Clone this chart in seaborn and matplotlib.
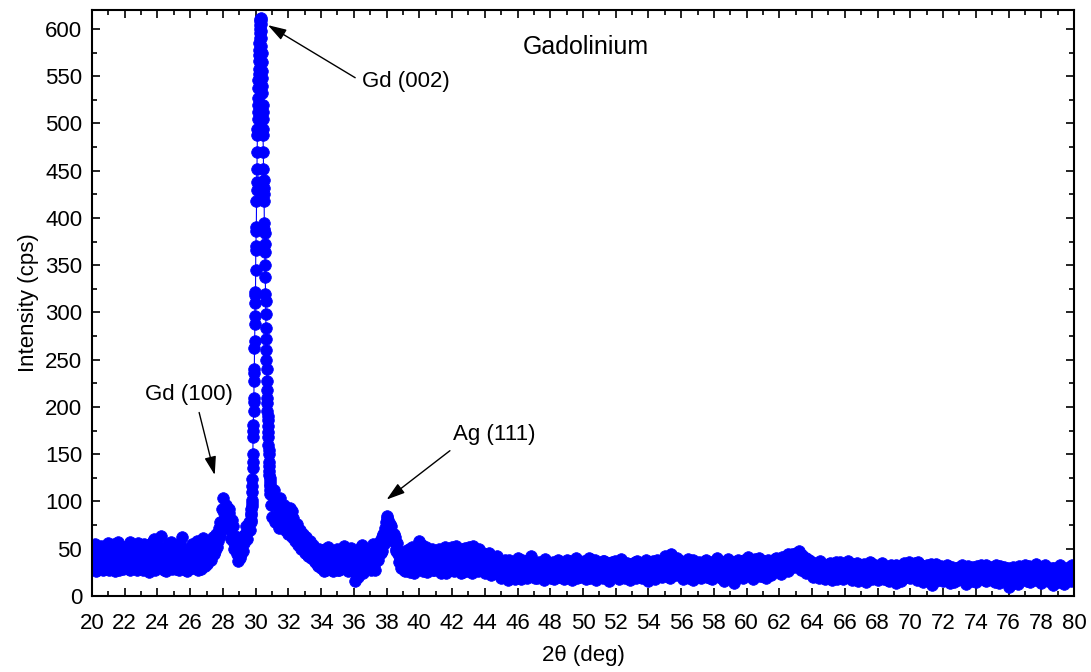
import numpy as np
import pandas as pd
import matplotlib
matplotlib.use("Agg")
import matplotlib.pyplot as plt
from matplotlib.ticker import MultipleLocator
import seaborn as sns

# ---- data: 2theta (deg) vs intensity (cps) ----
# segment A: 20.0 .. 29.6, step 0.1
int_a = [
    48, 31, 55, 28, 42, 36, 51, 27, 44, 33,
    39, 52, 30, 46, 26, 41, 57, 32, 45, 29,
    50, 35, 43, 27, 53, 38, 31, 47, 56, 30,
    41, 28, 49, 36, 54, 25, 44, 39, 60, 33,
    46, 31, 64, 38, 27, 51, 42, 34, 57, 29,
    45, 37, 52, 28, 48, 62, 33, 41, 26, 50,
    39, 55, 30, 47, 58, 27, 43, 36, 61, 32,
    48, 36, 56, 42, 62, 48, 66, 58, 78, 70,
    104, 82, 96, 74, 88, 60, 74, 50, 58, 37,
    52, 44, 64, 56, 74, 68, 78,
]
# segment A, in-between scan points: 20.05 .. 29.65, step 0.1
int_a_mid = [
    35, 50, 26, 47, 30, 53, 34, 40, 29, 56,
    28, 44, 37, 55, 33, 49, 27, 50, 36, 52,
    31, 46, 29, 57, 34, 42, 52, 27, 40, 48,
    35, 55, 30, 45, 27, 50, 33, 58, 28, 47,
    37, 52, 30, 48, 42, 26, 55, 31, 46, 36,
    53, 29, 40, 56, 35, 30, 49, 27, 45, 38,
    30, 44, 52, 33, 41, 50, 29, 55, 35, 45,
    34, 52, 38, 58, 44, 60, 52, 72, 64, 92,
    88, 90, 80, 92, 70, 80, 56, 64, 44, 48,
    40, 58, 48, 66, 60, 72, 70,
]
start_a, step_a = 20.0, 0.1

# segment B (Gd (002) peak, fine scan): 29.70 .. 30.89, step 0.01
int_b = [
    80, 86, 78, 92, 88, 95, 102, 98, 110, 116,
    124, 135, 150, 142, 168, 175, 181, 196, 210, 205,
    228, 240, 236, 262, 270, 288, 296, 310, 322, 318,
    345, 370, 366, 390, 386, 418, 430, 438, 452, 470,
    488, 494, 505, 512, 520, 527, 538, 546, 552, 558,
    566, 572, 578, 585, 590, 596, 600, 604, 608, 611,
    612, 609, 605, 598, 590, 582, 574, 565, 556, 548,
    540, 532, 520, 512, 505, 494, 488, 470, 452, 440,
    432, 425, 418, 395, 388, 384, 372, 364, 350, 338,
    320, 312, 298, 284, 272, 260, 250, 240, 228, 218,
    210, 204, 196, 190, 186, 180, 174, 168, 160, 155,
    150, 142, 138, 132, 128, 125, 122, 118, 116, 112,
]
start_b, step_b = 29.70, 0.01

# segment C: 30.9 .. 80.0, step 0.1
int_c = [
    108, 84, 112, 78, 98, 72, 104, 80, 92, 70,
    88, 66, 93, 62, 82, 58, 76, 54, 70, 50,
    66, 46, 62, 42, 58, 40, 54, 36, 50, 32,
    50, 30, 46, 38, 28, 52, 34, 44, 26, 48,
    32, 50, 27, 42, 36, 53, 29, 45, 33, 51,
    38, 25, 16, 40, 48, 29, 54, 35, 27, 46,
    31, 49, 36, 55, 28, 52, 42, 58, 48, 66,
    72, 85, 80, 76, 68, 58, 62, 50, 44, 38,
    30, 45, 26, 40, 34, 50, 28, 43, 24, 47,
    33, 58, 29, 44, 36, 52, 25, 41, 30, 47,
    27, 43, 35, 50, 24, 39, 31, 46, 28, 44,
    36, 52, 26, 41, 33, 49, 29, 45, 25, 51,
    34, 47, 28, 42, 53, 30, 44, 26, 38, 32,
    45, 24, 37, 29, 42, 22, 35, 40, 27, 33,
    30, 19, 36, 24, 33, 17, 38, 26, 21, 35,
    23, 40, 28, 18, 34, 25, 37, 20, 31, 42,
    22, 33, 27, 19, 36, 24, 30, 17, 39, 26,
    21, 35, 28, 18, 32, 23, 37, 20, 29, 34,
    19, 38, 25, 31, 17, 34, 22, 40, 27, 20,
    33, 24, 36, 18, 29, 39, 21, 31, 26, 17,
    35, 23, 30, 19, 37, 25, 32, 16, 28, 36,
    22, 34, 27, 18, 39, 24, 30, 20, 35, 26,
    17, 33, 28, 21, 37, 23, 31, 19, 34, 25,
    29, 16, 36, 22, 32, 18, 38, 24, 27, 20,
    35, 42, 26, 33, 19, 43, 28, 36, 22, 31,
    25, 37, 18, 32, 24, 39, 21, 30, 17, 34,
    27, 22, 36, 19, 31, 25, 38, 20, 33, 28,
    18, 35, 24, 40, 21, 30, 26, 16, 34, 23,
    37, 20, 29, 14, 33, 25, 38, 22, 31, 19,
    36, 27, 41, 23, 34, 18, 39, 26, 30, 21,
    35, 24, 32, 19, 38, 27, 22, 36, 25, 40,
    28, 34, 23, 39, 30, 42, 26, 37, 33, 44,
    31, 46, 36, 48, 34, 43, 29, 40, 27, 38,
    24, 36, 21, 34, 28, 19, 37, 25, 32, 18,
    30, 22, 35, 17, 29, 24, 33, 20, 36, 26,
    18, 31, 23, 37, 19, 28, 34, 21, 30, 16,
    27, 33, 20, 29, 15, 32, 24, 35, 19, 26,
    31, 17, 28, 22, 34, 18, 25, 30, 16, 33,
    21, 27, 14, 32, 24, 29, 18, 35, 23, 30,
    36, 19, 34, 26, 35, 17, 31, 22, 28, 15,
    29, 33, 20, 27, 12, 31, 24, 34, 18, 26,
    30, 16, 25, 21, 32, 14, 27, 19, 29, 23,
    17, 31, 24, 20, 28, 13, 32, 22, 26, 18,
    30, 15, 27, 23, 33, 19, 25, 16, 29, 21,
    31, 17, 26, 20, 28, 14, 32, 23, 18, 27,
    22, 10, 29, 16, 25, 19, 30, 13, 24, 28,
    18, 33, 21, 27, 15, 30, 24, 17, 34, 22,
    29, 14, 26, 20, 31, 16, 28, 23, 12, 30,
    19, 25, 15, 29, 22, 13, 27, 18, 31, 16,
    26, 20,
]
# segment C, in-between scan points: 30.95 .. 79.95, step 0.1
int_c_mid = [
    96, 106, 84, 100, 76, 90, 86, 74, 96, 80,
    74, 86, 70, 90, 64, 74, 60, 68, 56, 64,
    52, 58, 44, 56, 42, 50, 38, 48, 34, 46,
    36, 42, 26, 50, 40, 30, 46, 28, 42, 36,
    44, 28, 48, 34, 30, 46, 38, 26, 50, 35,
    30, 44, 28, 20, 36, 52, 24, 42, 50, 30,
    44, 27, 52, 33, 48, 38, 56, 45, 62, 55,
    78, 82, 70, 74, 60, 66, 48, 56, 36, 42,
    38, 28, 48, 30, 44, 25, 52, 32, 40, 29,
    46, 38, 54, 26, 48, 32, 44, 36, 50, 28,
    48, 30, 42, 26, 46, 36, 52, 24, 40, 34,
    28, 44, 38, 53, 30, 42, 24, 50, 36, 40,
    26, 52, 36, 24, 40, 48, 28, 50, 30, 44,
    30, 41, 26, 46, 32, 38, 28, 24, 42, 36,
    22, 34, 27, 38, 20, 31, 24, 35, 32, 18,
    36, 26, 33, 38, 22, 30, 19, 34, 27, 24,
    37, 19, 32, 35, 23, 31, 26, 36, 21, 33,
    30, 19, 36, 26, 22, 38, 20, 32, 25, 18,
    33, 24, 37, 20, 35, 26, 31, 19, 36, 29,
    21, 37, 26, 33, 40, 19, 35, 24, 38, 30,
    20, 34, 26, 37, 22, 30, 18, 35, 24, 21,
    37, 25, 20, 33, 26, 36, 19, 31, 23, 34,
    30, 24, 36, 19, 27, 33, 20, 35, 22, 38,
    22, 34, 25, 37, 19, 33, 26, 21, 36, 31,
    24, 30, 38, 20, 44, 25, 35, 23, 40, 27,
    34, 21, 33, 27, 36, 19, 31, 25, 38, 22,
    35, 30, 20, 34, 24, 37, 23, 33, 19, 36,
    30, 22, 37, 26, 33, 19, 36, 28, 21, 39,
    24, 33, 18, 36, 22, 30, 20, 35, 26, 38,
    22, 38, 25, 35, 20, 37, 30, 24, 40, 33,
    21, 37, 26, 34, 23, 36, 31, 27, 39, 30,
    36, 25, 41, 32, 38, 27, 44, 31, 40, 35,
    42, 38, 46, 40, 28, 39, 33, 24, 35, 30,
    32, 20, 29, 24, 35, 26, 22, 33, 19, 31,
    24, 34, 20, 31, 26, 36, 18, 30, 23, 32,
    27, 20, 34, 25, 32, 17, 29, 24, 35, 22,
    31, 19, 34, 24, 30, 21, 36, 18, 28, 33,
    24, 29, 19, 35, 21, 30, 28, 17, 32, 24,
    30, 18, 33, 21, 28, 16, 30, 26, 34, 20,
    26, 33, 22, 30, 19, 36, 25, 33, 18, 31,
    17, 31, 23, 34, 20, 28, 16, 29, 25, 32,
    22, 29, 18, 33, 20, 27, 31, 15, 24, 30,
    26, 20, 33, 17, 30, 24, 21, 28, 16, 31,
    20, 32, 18, 29, 22, 30, 17, 33, 23, 27,
    24, 30, 15, 33, 21, 29, 19, 27, 31, 16,
    30, 19, 24, 31, 14, 27, 22, 32, 18, 25,
    29, 24, 16, 32, 22, 26, 18, 31, 20, 28,
    23, 31, 17, 33, 21, 28, 19, 30, 24, 16,
    28, 20, 33, 17, 30, 24, 16, 29, 21, 33,
    23,
]
start_c, step_c = 30.9, 0.1

x_ticks = list(range(20, 81, 2))
y_ticks = list(range(0, 601, 50))

# label, arrow tip, text position, horizontal alignment, arrow start (relative to text box)
annotations = [
    ("Gd (002)", (30.75, 604), (36.5, 544), "left", (0.0, 0.5)),
    ("Gd (100)", (27.5, 128), (25.9, 213), "center", (0.6, 0.0)),
    ("Ag (111)", (38.0, 102), (44.6, 171), "center", (0.05, 0.0)),
]

# ---- build frame ----
def seg(start, step, vals, offset=0.0):
    xs = np.round(start + offset + step * np.arange(len(vals)), 3)
    return pd.DataFrame({"two_theta": xs, "intensity": vals})

df = pd.concat([seg(start_a, step_a, int_a),
                seg(start_a, step_a, int_a_mid, step_a / 2),
                seg(start_b, step_b, int_b),
                seg(start_c, step_c, int_c),
                seg(start_c, step_c, int_c_mid, step_c / 2)], ignore_index=True)
df = df.sort_values("two_theta", kind="stable").reset_index(drop=True)

sns.set_style("ticks")
plt.rcParams["font.family"] = ["Liberation Sans", "DejaVu Sans"]
plt.rcParams["text.color"] = "black"
plt.rcParams["axes.labelcolor"] = "black"
plt.rcParams["xtick.color"] = "black"
plt.rcParams["ytick.color"] = "black"

fig = plt.figure(figsize=(10.91, 6.72), dpi=100)
ax = fig.add_axes([0.0843, 0.1131, 0.9001, 0.8720])

sns.lineplot(data=df, x="two_theta", y="intensity", ax=ax, sort=False,
             estimator=None, color="#0000FF", linewidth=0.8,
             marker="o", markersize=8.4, markeredgewidth=0.5,
             markeredgecolor="#0000FF", markerfacecolor="#0000FF")

ax.set_xlim(20, 80)
ax.set_ylim(0, 620)
ax.set_xticks(x_ticks)
ax.set_yticks(y_ticks)
ax.xaxis.set_minor_locator(MultipleLocator(1))
ax.yaxis.set_minor_locator(MultipleLocator(25))
ax.tick_params(which="both", direction="in", top=True, right=True,
               colors="black", width=1.2)
ax.tick_params(which="major", length=6, labelsize=16)
ax.tick_params(which="minor", length=3.5)
ax.tick_params(axis="x", which="both", pad=12)
ax.tick_params(axis="y", which="both", pad=7)
for s in ax.spines.values():
    s.set_visible(True)
    s.set_color("black")
    s.set_linewidth(1.5)

ax.set_xlabel("2θ (deg)", fontsize=16, labelpad=8)
ax.set_ylabel("Intensity (cps)", fontsize=16, labelpad=4)

ax.text(50.2, 581, "Gadolinium", fontsize=18, ha="center", va="center")

for label, tip, txt, ha, rel in annotations:
    ax.annotate(label, xy=tip, xytext=txt, fontsize=16, ha=ha, va="center",
                arrowprops=dict(arrowstyle="-|>,head_length=0.7,head_width=0.22",
                                color="black", lw=1.0, shrinkA=3, shrinkB=0,
                                relpos=rel))

fig.savefig("out.png", dpi=100)
